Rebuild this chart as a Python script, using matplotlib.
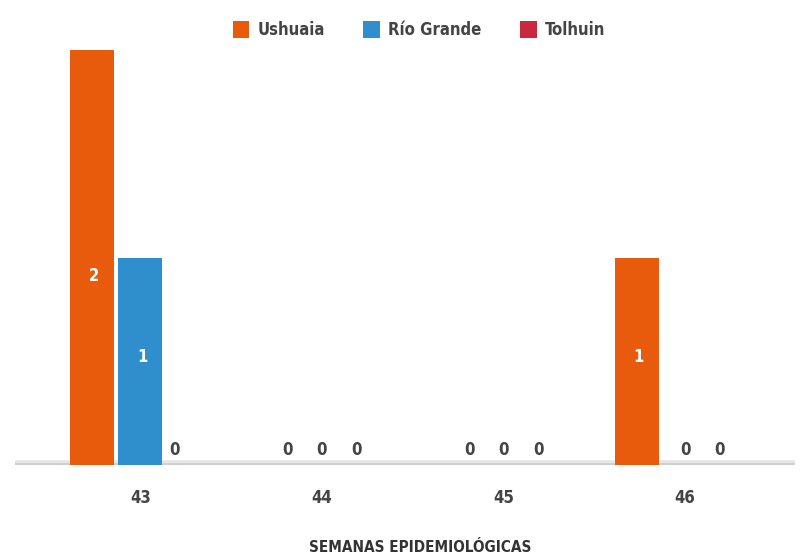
import numpy as np
import matplotlib.pyplot as plt
from matplotlib.patches import Patch

# Data
semanas = ['43', '44', '45', '46']
ciudades = ['Ushuaia', 'Río Grande', 'Tolhuin']
ushuaia = [2, 0, 0, 1]
rio_grande = [1, 0, 0, 0]
tolhuin = [0, 0, 0, 0]
colores = ['#E85A0C', '#2E8FCC', '#C9283F']

series = [ushuaia, rio_grande, tolhuin]

fig = plt.figure(figsize=(8.02, 5.58), dpi=100)
ax = fig.add_axes([15 / 802, 93 / 558, 780 / 802, 415 / 558])

x = np.arange(len(semanas))
offset = 0.264
width = 0.242

for i, (vals, col) in enumerate(zip(series, colores)):
    pos = x + (i - 1) * offset
    ax.bar(pos, vals, width=width, color=col, zorder=2)
    for p, v in zip(pos, vals):
        if v > 0:
            ax.text(p + 0.01, v * 0.39 + 0.13, str(v), ha='center', va='center', color='white',
                    fontsize=12, fontweight='bold', fontstretch='condensed')
        else:
            # zero labels sit a little closer to the group centre
            xc = p - (i - 1) * offset * 0.28
            ax.text(xc, 0.03, '0', ha='center', va='bottom', color='#444444',
                    fontsize=12, fontweight='bold', fontstretch='condensed')

# baseline with soft shadow
ax.axhline(0, color='#e6e6e6', lw=7, zorder=1)
ax.axhline(0, color='#cfcfcf', lw=3.5, zorder=1)

ax.set_xlim(-0.69, 3.605)
ax.set_ylim(0, 2)
ax.set_yticks([])
ax.set_xticks(x)
ax.set_xticklabels(semanas, fontsize=12, color='#444444', fontweight='bold', fontstretch='condensed')
ax.tick_params(axis='x', length=0, pad=17)
for s in ax.spines.values():
    s.set_visible(False)

fig.text(420 / 802, 3 / 558, 'SEMANAS EPIDEMIOLÓGICAS', ha='center', va='bottom',
         fontsize=11, color='#333333', fontweight='bold', fontstretch='condensed')

handles = [Patch(facecolor=c, label=n) for n, c in zip(ciudades, colores)]
leg = fig.legend(handles=handles, loc='upper center', bbox_to_anchor=(419 / 802, 0.99),
                 ncol=3, frameon=False, handlelength=1.0, handleheight=1.2,
                 handletextpad=0.5, columnspacing=2.3,
                 prop={'size': 12, 'weight': 'bold', 'stretch': 'condensed'})
for t in leg.get_texts():
    t.set_color('#444444')

fig.savefig('out.png', dpi=100)
